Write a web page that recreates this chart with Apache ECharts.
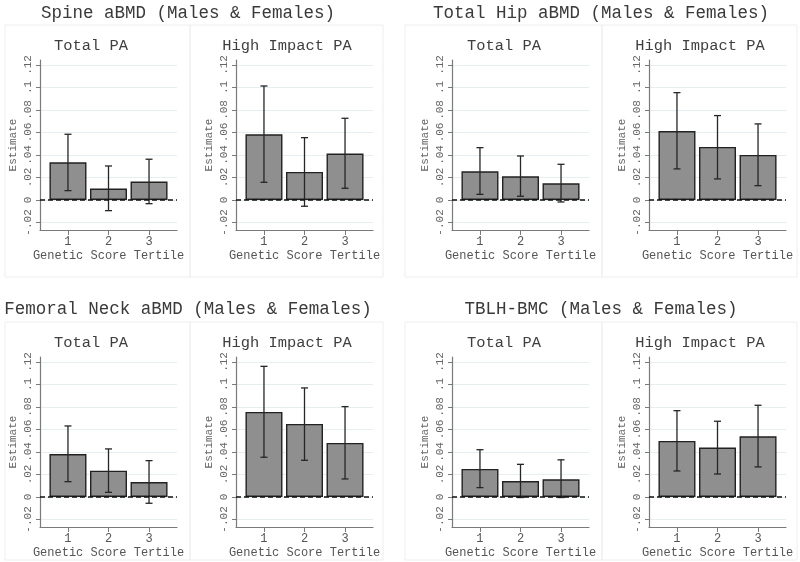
<!DOCTYPE html>
<html>
<head>
<meta charset="utf-8">
<script src="https://cdn.jsdelivr.net/npm/echarts@6/dist/echarts.min.js"></script>
<style>
html, body {margin: 0; padding: 0; background: #fff;}
#chart {width: 800px; height: 562px;}
</style>
</head>
<body>
<div id="chart"></div>
<script>
// data
var tertiles = [1, 2, 3];
var yTicks = [-0.02, 0, 0.02, 0.04, 0.06, 0.08, 0.1, 0.12];
var panelTitles = ['Spine aBMD (Males & Females)', 'Total Hip aBMD (Males & Females)',
                   'Femoral Neck aBMD (Males & Females)', 'TBLH-BMC (Males & Females)'];
var subTitles = ['Total PA', 'High Impact PA'];

var spineTotalEst = [0.0335, 0.0101, 0.0163];
var spineTotalLo  = [0.0083, -0.0095, -0.0033];
var spineTotalHi  = [0.0584, 0.0302, 0.0362];
var spineHighEst  = [0.0584, 0.0249, 0.0412];
var spineHighLo   = [0.0157, -0.0056, 0.0104];
var spineHighHi   = [0.1013, 0.0554, 0.0726];

var hipTotalEst = [0.0255, 0.0210, 0.0148];
var hipTotalLo  = [0.0050, 0.0033, -0.0018];
var hipTotalHi  = [0.0465, 0.0391, 0.0317];
var hipHighEst  = [0.0613, 0.0471, 0.0400];
var hipHighLo   = [0.0276, 0.0187, 0.0127];
var hipHighHi   = [0.0954, 0.0750, 0.0676];

var neckTotalEst = [0.0382, 0.0234, 0.0133];
var neckTotalLo  = [0.0136, 0.0041, -0.0056];
var neckTotalHi  = [0.0631, 0.0427, 0.0323];
var neckHighEst  = [0.0756, 0.0649, 0.0480];
var neckHighLo   = [0.0353, 0.0326, 0.0160];
var neckHighHi   = [0.1161, 0.0969, 0.0803];

var tblhTotalEst = [0.0249, 0.0142, 0.0157];
var tblhTotalLo  = [0.0083, -0.0005, -0.0005];
var tblhTotalHi  = [0.0420, 0.0290, 0.0330];
var tblhHighEst  = [0.0498, 0.0439, 0.0539];
var tblhHighLo   = [0.0231, 0.0204, 0.0267];
var tblhHighHi   = [0.0767, 0.0673, 0.0815];

var subplots = [
  [spineTotalEst, spineTotalLo, spineTotalHi], [spineHighEst, spineHighLo, spineHighHi],
  [hipTotalEst, hipTotalLo, hipTotalHi],       [hipHighEst, hipHighLo, hipHighHi],
  [neckTotalEst, neckTotalLo, neckTotalHi],    [neckHighEst, neckHighLo, neckHighHi],
  [tblhTotalEst, tblhTotalLo, tblhTotalHi],    [tblhHighEst, tblhHighLo, tblhHighHi]
];

var FONT = '"Liberation Mono", "DejaVu Sans Mono", monospace';
var colLeft = [40, 236, 452, 649];
var rowTop = [60, 357];
var titleX = [188, 601];
var titleY = [13, 309];
var subX = [91, 287, 504, 700];
var subY = [46, 343];

function fmtTick(v) {
  var s = String(+v.toFixed(2));
  return s.replace('0.', '.');
}

function renderErr(params, api) {
  var x = api.value(0);
  var lo = api.coord([x, api.value(1)]);
  var hi = api.coord([x, api.value(2)]);
  var cap = 3.5;
  var st = {stroke: '#262626', lineWidth: 1.3};
  return {
    type: 'group',
    children: [
      {type: 'line', shape: {x1: lo[0], y1: lo[1], x2: hi[0], y2: hi[1]}, style: st},
      {type: 'line', shape: {x1: lo[0] - cap, y1: lo[1], x2: lo[0] + cap, y2: lo[1]}, style: st},
      {type: 'line', shape: {x1: hi[0] - cap, y1: hi[1], x2: hi[0] + cap, y2: hi[1]}, style: st}
    ]
  };
}

var grids = [], xAxes = [], yAxes = [], series = [], titles = [], frames = [];

for (var p = 0; p < 4; p++) {
  var row = Math.floor(p / 2), pc = p % 2;
  titles.push({
    text: panelTitles[p], left: titleX[pc], top: titleY[row], padding: 0,
    textAlign: 'center', textVerticalAlign: 'middle',
    textStyle: {fontFamily: FONT, fontSize: 17.5, fontWeight: 'normal', color: '#3a3a3a'}
  });
}

for (var i = 0; i < 8; i++) {
  var r = Math.floor(i / 4), c = i % 4;
  var d = subplots[i];
  grids.push({left: colLeft[c], top: rowTop[r], width: 137, height: 170});
  titles.push({
    text: subTitles[i % 2], left: subX[c], top: subY[r], padding: 0,
    textAlign: 'center', textVerticalAlign: 'middle',
    textStyle: {fontFamily: FONT, fontSize: 15.4, fontWeight: 'normal', color: '#3f3f3f'}
  });
  xAxes.push({
    gridIndex: i, type: 'value', min: 0.31, max: 3.69,
    axisLine: {show: true, onZero: false, lineStyle: {color: '#7a7a7a', width: 1.2}},
    axisTick: {show: true, customValues: tertiles, length: 5, lineStyle: {color: '#7a7a7a'}},
    axisLabel: {customValues: tertiles, margin: 6, fontSize: 12, color: '#555', fontFamily: FONT,
                formatter: function (v) { return String(v); }},
    splitLine: {show: false},
    name: 'Genetic Score Tertile', nameLocation: 'middle', nameGap: 20,
    nameTextStyle: {fontFamily: FONT, fontSize: 12, color: '#555'}
  });
  yAxes.push({
    gridIndex: i, type: 'value', min: -0.0267, max: 0.1244,
    axisLine: {show: true, lineStyle: {color: '#7a7a7a', width: 1.2}},
    axisTick: {show: true, customValues: yTicks, length: 4, lineStyle: {color: '#7a7a7a'}},
    axisLabel: {customValues: yTicks, rotate: 90, margin: 6, fontSize: 11, color: '#666',
                fontFamily: FONT, formatter: fmtTick},
    splitLine: {show: true, customValues: yTicks, lineStyle: {color: '#e6eef0', width: 1}},
    name: 'Estimate', nameLocation: 'middle', nameGap: 21,
    nameTextStyle: {fontFamily: FONT, fontSize: 11, color: '#666'}
  });
  series.push({
    type: 'bar', xAxisIndex: i, yAxisIndex: i, barWidth: 37, z: 2,
    itemStyle: {color: '#8f8f8f', borderColor: '#222', borderWidth: 1.4},
    data: tertiles.map(function (t, k) { return [t, d[0][k]]; }),
    markLine: {
      silent: true, symbol: 'none', label: {show: false},
      lineStyle: {color: '#111', type: [5, 3], width: 1.5},
      data: [{yAxis: 0}]
    }
  });
  series.push({
    type: 'custom', xAxisIndex: i, yAxisIndex: i, z: 4, clip: false,
    renderItem: renderErr,
    data: tertiles.map(function (t, k) { return [t, d[1][k], d[2][k]]; })
  });
}

// faint sub-panel frames
var frameX = [[5, 190, 383], [405, 602, 797]];
var frameY = [[25, 277], [322, 560]];
for (var fr = 0; fr < 2; fr++) {
  for (var fc = 0; fc < 2; fc++) {
    var fx = frameX[fc], fy = frameY[fr];
    frames.push({type: 'rect', shape: {x: fx[0], y: fy[0], width: fx[1] - fx[0], height: fy[1] - fy[0]},
                 style: {fill: null, stroke: '#eeeeee', lineWidth: 1}, z: -1});
    frames.push({type: 'rect', shape: {x: fx[1], y: fy[0], width: fx[2] - fx[1], height: fy[1] - fy[0]},
                 style: {fill: null, stroke: '#eeeeee', lineWidth: 1}, z: -1});
  }
}

var chart = echarts.init(document.getElementById('chart'));
chart.setOption({
  backgroundColor: '#ffffff',
  animation: false,
  title: titles,
  grid: grids,
  xAxis: xAxes,
  yAxis: yAxes,
  series: series,
  graphic: frames
});
</script>
</body>
</html>
